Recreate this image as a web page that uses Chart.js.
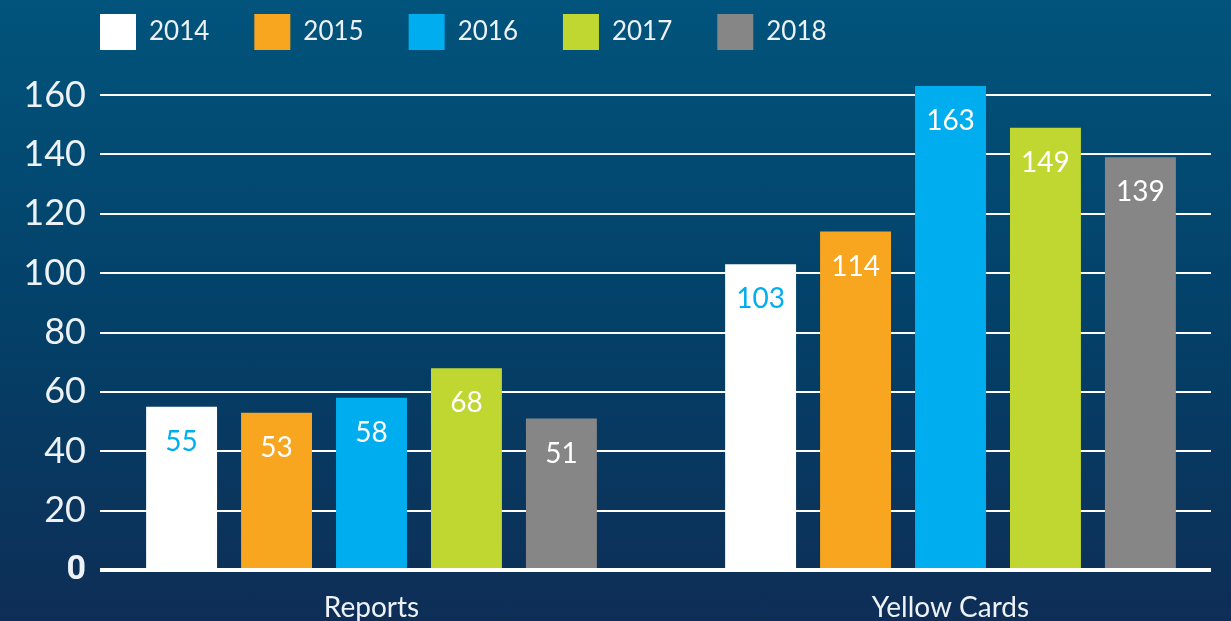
<!DOCTYPE html>
<html>
<head>
<meta charset="utf-8">
<script src="https://cdn.jsdelivr.net/npm/chart.js@4/dist/chart.umd.min.js"></script>
<style>
  html, body { margin: 0; padding: 0; }
  body {
    width: 1231px; height: 621px; overflow: hidden;
    background: linear-gradient(to bottom, #01547c 0%, #043f67 55%, #0e2e56 100%);
  }
  #chart { display: block; }
</style>
</head>
<body>
<canvas id="chart" width="1231" height="621"></canvas>
<script>
// chart data
const categories = ['Reports', 'Yellow Cards'];
const years = ['2014', '2015', '2016', '2017', '2018'];
const values2014 = [55, 103];
const values2015 = [53, 114];
const values2016 = [58, 163];
const values2017 = [68, 149];
const values2018 = [51, 139];
const yTicks = [0, 20, 40, 60, 80, 100, 120, 140, 160];

const seriesValues = [values2014, values2015, values2016, values2017, values2018];
const barColors = ['#ffffff', '#f8a61f', '#00aeef', '#c1d731', '#868686'];
const labelColors = ['#00aeef', '#ffffff', '#ffffff', '#ffffff', '#ffffff'];

const FONT = 'Lato, "Open Sans", sans-serif';
const TEXT = '#eef2f6';
const LEGEND_GAP = 45;

// draws the number inside the top of each bar
const valueLabels = {
  id: 'valueLabels',
  afterDatasetsDraw(chart) {
    const ctx = chart.ctx;
    ctx.save();
    ctx.font = '28px ' + FONT;
    ctx.textAlign = 'center';
    ctx.textBaseline = 'middle';
    chart.data.datasets.forEach((ds, i) => {
      const meta = chart.getDatasetMeta(i);
      ctx.fillStyle = labelColors[i];
      meta.data.forEach((bar, j) => {
        ctx.fillText(String(seriesValues[i][j]), bar.x, bar.y + 35);
      });
    });
    ctx.restore();
  }
};

// line the legend up with the left edge of the plot
const legendShift = {
  id: 'legendShift',
  afterLayout(chart) {
    chart.legend.left = chart.chartArea.left - LEGEND_GAP;
  }
};

const datasets = years.map((year, i) => ({
  label: year,
  data: seriesValues[i].map((v, j) => ({ x: j, y: v })),
  backgroundColor: barColors[i],
  borderWidth: 0,
  categoryPercentage: 0.82,
  barPercentage: 0.747
}));

new Chart(document.getElementById('chart'), {
  type: 'bar',
  data: { datasets: datasets },
  options: {
    responsive: false,
    animation: false,
    layout: { padding: { top: 14 - LEGEND_GAP, left: 10, right: 20, bottom: 0 } },
    plugins: {
      legend: {
        position: 'top',
        align: 'start',
        labels: {
          boxWidth: 36,
          boxHeight: 36,
          padding: LEGEND_GAP,
          color: TEXT,
          font: { family: FONT, size: 26 }
        }
      },
      tooltip: { enabled: false }
    },
    scales: {
      x: {
        type: 'linear',
        offset: false,
        min: -0.4689,
        max: 1.4499,
        grid: { display: false },
        border: { display: false },
        afterFit: (scale) => { scale.height = 51; },
        ticks: {
          stepSize: 1,
          includeBounds: false,
          padding: 13,
          color: TEXT,
          font: { family: FONT, size: 28 },
          callback: (v) => categories[v]
        }
      },
      y: {
        min: 0,
        max: 171.8,
        border: { display: false },
        afterFit: (scale) => { scale.width = 90; },
        afterBuildTicks: (scale) => { scale.ticks = yTicks.map(v => ({ value: v })); },
        grid: {
          color: '#ffffff',
          drawTicks: false,
          tickLength: 0,
          lineWidth: (ctx) => ctx.tick && ctx.tick.value === 0 ? 4 : 2
        },
        ticks: {
          padding: 14,
          color: TEXT,
          font: (ctx) => ctx.tick && ctx.tick.value === 0
            ? { family: 'Roboto, "DejaVu Sans", sans-serif', size: 34, weight: 'bold' }
            : { family: FONT, size: 36 }
        }
      }
    }
  },
  plugins: [valueLabels, legendShift]
});
</script>
</body>
</html>
